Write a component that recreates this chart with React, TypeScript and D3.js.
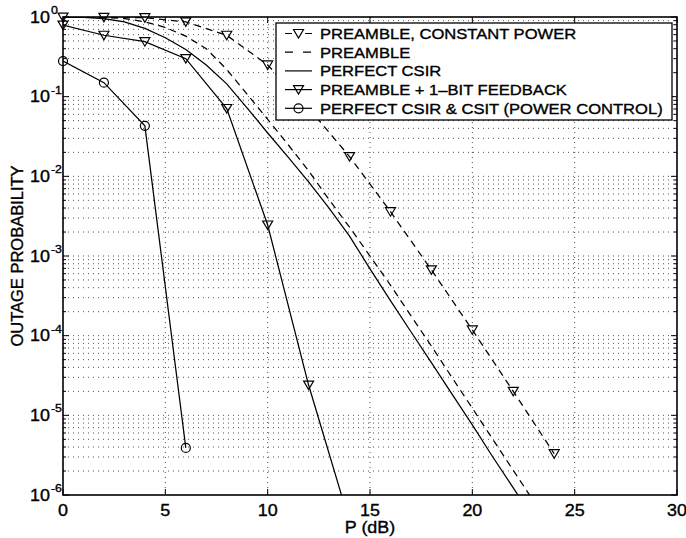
import React from "react";
import * as d3 from "d3";

// x values (dB) of the marked curves
const markerDb = [0, 2, 4, 6, 8, 10, 12, 14, 16, 18, 20, 22, 24];
const constantPower = [0.995, 0.99, 0.98, 0.87, 0.59, 0.25, 0.072, 0.0177, 0.0036, 6.7e-4, 1.18e-4, 2.0e-5, 3.3e-6];

const feedbackDb = [0, 2, 4, 6, 8, 10, 12, 14];
const feedback = [0.79, 0.59, 0.49, 0.3, 0.071, 2.45e-3, 2.4e-5, 4.6e-7];

const csitDb = [0, 2, 4, 6];
const csit = [0.28, 0.15, 0.043, 3.9e-6];

// smooth curves, every dB
const curveDb = [0, 1, 2, 3, 4, 5, 6, 7, 8, 9, 10, 11, 12, 13, 14, 15, 16, 17, 18, 19, 20, 21, 22, 23];
const preamble = [0.999, 0.998, 0.989, 0.955, 0.87, 0.74, 0.575, 0.4, 0.22, 0.107, 0.052, 0.025, 0.0117, 5.1e-3, 2.3e-3, 1.0e-3, 4.3e-4, 1.78e-4, 7.4e-5, 3.0e-5, 1.23e-5, 5.0e-6, 2.04e-6, 8.3e-7];
const perfectCsir = [0.993, 0.986, 0.955, 0.87, 0.72, 0.55, 0.39, 0.25, 0.145, 0.072, 0.035, 0.0174, 8.5e-3, 4.0e-3, 1.78e-3, 6.9e-4, 2.75e-4, 1.12e-4, 4.6e-5, 1.86e-5, 7.6e-6, 3.0e-6, 1.23e-6, 5.0e-7];

const xTicks = [0, 5, 10, 15, 20, 25, 30];
const yExponents = [0, -1, -2, -3, -4, -5, -6];
const legendLabels = [
  "PREAMBLE, CONSTANT POWER",
  "PREAMBLE",
  "PERFECT CSIR",
  "PREAMBLE + 1\u2013BIT FEEDBACK",
  "PERFECT CSIR & CSIT (POWER CONTROL)",
];

const W = 686;
const H = 538;
const left = 63, right = 677, top = 17, bottom = 495;
const FONT = "'Liberation Sans', Arial, Helvetica, sans-serif";
const STRETCH = 1.12;

const x = d3.scaleLinear().domain([0, 30]).range([left, right]);
const y = d3.scaleLog().domain([1e-6, 1]).range([bottom, top]);

const tri = "M-5,-4L5,-4L0,4.5Z";

function Txt(props: { x: number; y: number; size: number; anchor?: string; children: any }) {
  return (
    <text
      transform={`translate(${props.x},${props.y}) scale(${STRETCH},1)`}
      textAnchor={props.anchor || "start"}
      fontSize={props.size}
      fontFamily={FONT}
      fill="#000"
      stroke="#000"
      strokeWidth={0.35}
    >
      {props.children}
    </text>
  );
}

export default function App() {
  const line = d3
    .line<[number, number]>()
    .x((d) => x(d[0]))
    .y((d) => y(d[1]));

  const zip = (xs: number[], ys: number[]) => xs.map((v, i) => [v, ys[i]] as [number, number]);

  // minor grid values for the log axis
  const minor: number[] = [];
  for (let e = -6; e < 0; e++) {
    for (let k = 2; k <= 9; k++) minor.push(k * Math.pow(10, e));
  }

  const legendX = 276, legendY = 23, legendW = 396, legendH = 97;
  const rowY = (i: number) => 33.5 + i * 18.7;

  return (
    <svg width={W} height={H} style={{ position: "absolute", left: 0, top: 0, background: "#fff" }}>
      <defs>
        <clipPath id="plot">
          <rect x={left} y={top} width={right - left} height={bottom - top} />
        </clipPath>
      </defs>

      {/* grid */}
      <g stroke="#333" strokeWidth={0.85} strokeDasharray="1,4">
        {minor.map((v, i) => (
          <line key={"m" + i} x1={left} x2={right} y1={y(v)} y2={y(v)} />
        ))}
        {yExponents.slice(1, -1).map((e) => (
          <line key={"M" + e} x1={left} x2={right} y1={y(Math.pow(10, e))} y2={y(Math.pow(10, e))} />
        ))}
        {xTicks.slice(1, -1).map((t) => (
          <line key={"x" + t} x1={x(t)} x2={x(t)} y1={top} y2={bottom} />
        ))}
      </g>

      {/* ticks */}
      <g stroke="#000" strokeWidth={1}>
        {xTicks.map((t) => (
          <g key={"xt" + t}>
            <line x1={x(t)} x2={x(t)} y1={bottom} y2={bottom - 6} />
            <line x1={x(t)} x2={x(t)} y1={top} y2={top + 6} />
          </g>
        ))}
        {yExponents.map((e) => (
          <g key={"yt" + e}>
            <line x1={left} x2={left + 6} y1={y(Math.pow(10, e))} y2={y(Math.pow(10, e))} />
            <line x1={right} x2={right - 6} y1={y(Math.pow(10, e))} y2={y(Math.pow(10, e))} />
          </g>
        ))}
        {minor.map((v, i) => (
          <g key={"ym" + i}>
            <line x1={left} x2={left + 3} y1={y(v)} y2={y(v)} />
            <line x1={right} x2={right - 3} y1={y(v)} y2={y(v)} />
          </g>
        ))}
      </g>

      {/* curves */}
      <g clipPath="url(#plot)" fill="none" stroke="#000" strokeWidth={1.25}>
        <path d={line(zip(markerDb, constantPower)) || ""} strokeDasharray="7,5" />
        <path d={line(zip(curveDb, preamble)) || ""} strokeDasharray="7,5" />
        <path d={line(zip(curveDb, perfectCsir)) || ""} />
        <path d={line(zip(feedbackDb, feedback)) || ""} />
        <path d={line(zip(csitDb, csit)) || ""} />
      </g>

      {/* markers */}
      <g fill="none" stroke="#000" strokeWidth={1.2}>
        {markerDb.map((d, i) => (
          <path key={"cp" + i} d={tri} transform={`translate(${x(d)},${y(constantPower[i])})`} />
        ))}
        {feedbackDb
          .filter((d, i) => feedback[i] >= 1e-6)
          .map((d, i) => (
            <path key={"fb" + i} d={tri} transform={`translate(${x(d)},${y(feedback[i])})`} />
          ))}
        {csitDb.map((d, i) => (
          <circle key={"cs" + i} cx={x(d)} cy={y(csit[i])} r={4.5} />
        ))}
      </g>

      {/* frame */}
      <rect x={left} y={top} width={right - left} height={bottom - top} fill="none" stroke="#000" strokeWidth={1.6} />

      {/* x tick labels */}
      {xTicks.map((t) => (
        <Txt key={"xl" + t} x={x(t)} y={516} size={16} anchor="middle">
          {t}
        </Txt>
      ))}

      {/* y tick labels */}
      {yExponents.map((e) => {
        const yy = y(Math.pow(10, e));
        return (
          <g key={"yl" + e}>
            <Txt x={50} y={yy + 5.5} size={16} anchor="end">
              10
            </Txt>
            <Txt x={51} y={yy - 3} size={11}>
              {e === 0 ? "0" : "-" + Math.abs(e)}
            </Txt>
          </g>
        );
      })}

      {/* axis labels */}
      <Txt x={(left + right) / 2} y={533} size={16} anchor="middle">
        P (dB)
      </Txt>
      <text
        transform={`translate(23,${(top + bottom) / 2}) rotate(-90)`}
        textAnchor="middle"
        fontSize={16.5}
        fontFamily={FONT}
        stroke="#000"
        strokeWidth={0.35}
      >
        OUTAGE PROBABILITY
      </text>

      {/* legend */}
      <rect x={legendX} y={legendY} width={legendW} height={legendH} fill="#fff" stroke="#000" strokeWidth={1.3} />
      <g stroke="#000" strokeWidth={1.2} fill="none">
        <line x1={285} x2={312} y1={rowY(0)} y2={rowY(0)} strokeDasharray="7,13,7" />
        <path d={tri} transform={`translate(298.5,${rowY(0)})`} />
        <line x1={285} x2={312} y1={rowY(1)} y2={rowY(1)} strokeDasharray="8,10" />
        <line x1={285} x2={312} y1={rowY(2)} y2={rowY(2)} />
        <line x1={285} x2={312} y1={rowY(3)} y2={rowY(3)} />
        <path d={tri} transform={`translate(298.5,${rowY(3)})`} />
        <line x1={285} x2={312} y1={rowY(4)} y2={rowY(4)} />
        <circle cx={298.5} cy={rowY(4)} r={4.5} />
      </g>
      {legendLabels.map((s, i) => (
        <Txt key={"lg" + i} x={320} y={rowY(i) + 5.5} size={14.8}>
          {s}
        </Txt>
      ))}
    </svg>
  );
}
